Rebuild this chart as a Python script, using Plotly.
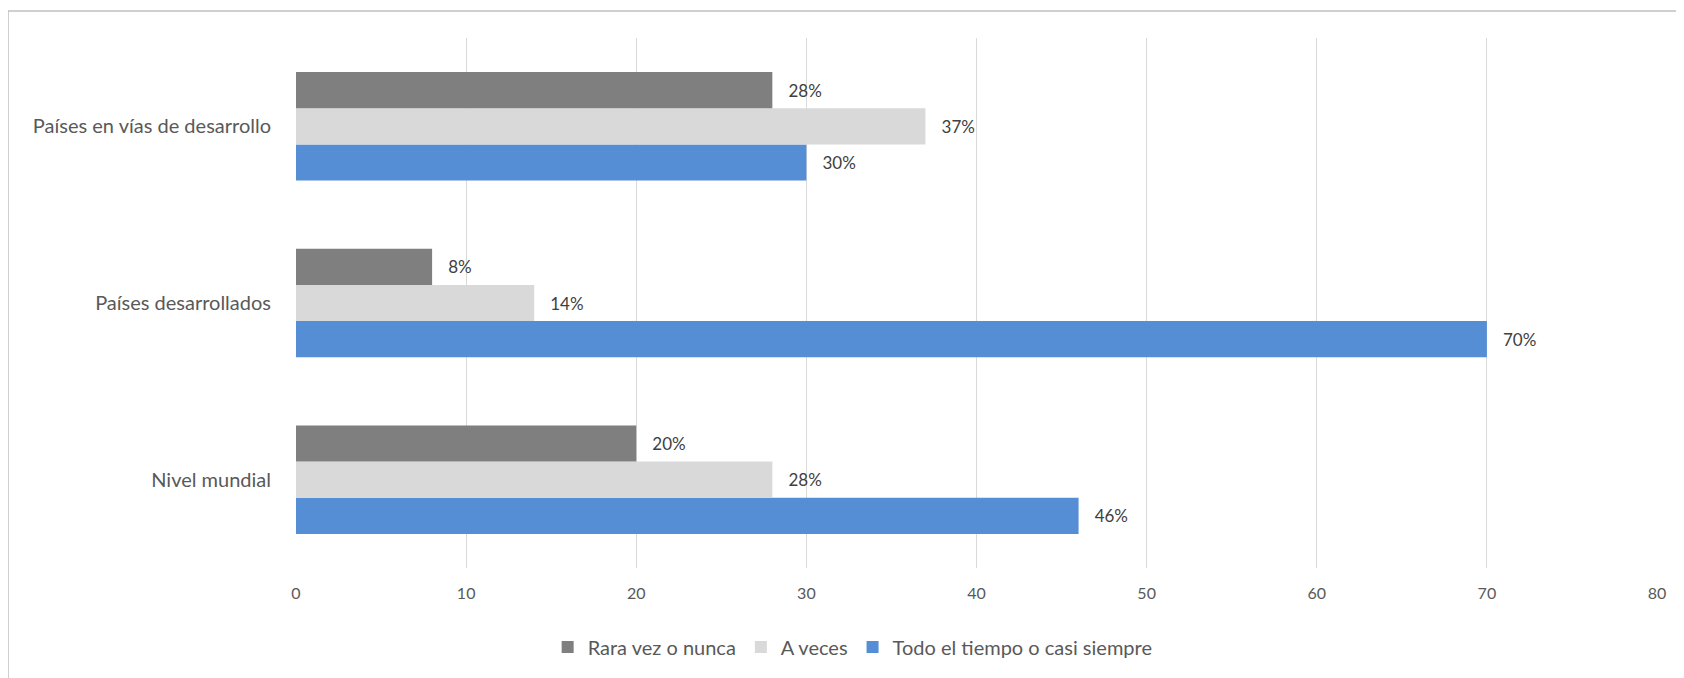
import plotly.graph_objects as go

categories = ["Nivel mundial", "Países desarrollados", "Países en vías de desarrollo"]
rara = [20, 8, 28]
a_veces = [28, 14, 37]
todo = [46, 70, 30]
series_names = ["Rara vez o nunca", "A veces", "Todo el tiempo o casi siempre"]
x_ticks = [0, 10, 20, 30, 40, 50, 60, 70, 80]

FONT = "Lato"
TXT = "#595959"
PAD = "\u00a0\u00a0\u00a0"

fig = go.Figure()
for name, vals, col in [
    (series_names[2], todo, "#558ed5"),
    (series_names[1], a_veces, "#d9d9d9"),
    (series_names[0], rara, "#7f7f7f"),
]:
    fig.add_trace(go.Bar(
        y=categories, x=vals, orientation="h", name=name,
        marker=dict(color=col, line=dict(width=0)),
        text=[f"{PAD}{v}%" for v in vals], textposition="outside",
        textfont=dict(size=17, color="#404040", family=FONT),
        cliponaxis=False,
    ))

# page body has an 8px offset; margins are set in figure coordinates
W, H = 1684, 678
L, R, T, B = 288, 35, 30, 118
pw, ph = W - L - R, H - T - B
bx = (0 - L) / pw
by = (H - B - 3) / ph

fig.update_layout(
    width=W, height=H,
    margin=dict(l=L, r=R, t=T, b=B, autoexpand=False),
    paper_bgcolor="white", plot_bgcolor="white",
    barmode="group", bargap=0.386, bargroupgap=0,
    font=dict(family=FONT, size=16, color=TXT),
    xaxis=dict(range=[0, 80], tickvals=x_ticks, showgrid=True, gridcolor="#d9d9d9",
               gridwidth=1, zeroline=False, showline=False, ticks="", automargin=False,
               tickfont=dict(size=16, color=TXT), ticklabelstandoff=14),
    yaxis=dict(showgrid=False, showline=False, ticks="", ticklabelstandoff=24,
               automargin=False, tickfont=dict(size=20, color=TXT)),
    legend=dict(orientation="h", x=0.409, xanchor="center", y=-0.149, yanchor="middle",
                traceorder="reversed", font=dict(size=20, color=TXT)),
    showlegend=True,
    shapes=[
        dict(type="line", xref="paper", yref="paper", x0=bx, x1=bx, y0=-0.5, y1=by,
             line=dict(color="#bfbfbf", width=1.5)),
        dict(type="line", xref="paper", yref="paper", x0=bx, x1=1.2, y0=by, y1=by,
             line=dict(color="#bfbfbf", width=1.5)),
    ],
)

fig.write_html("out.html")
